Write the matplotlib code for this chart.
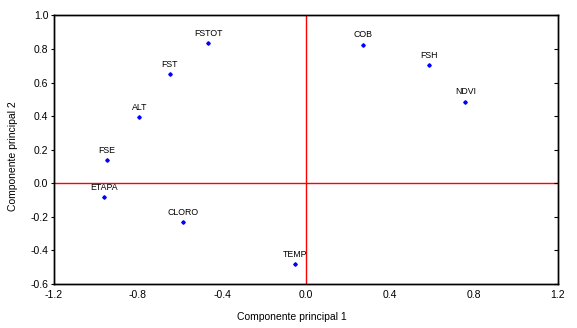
import matplotlib
matplotlib.use("Agg")
import matplotlib.pyplot as plt

plt.rcParams['font.family'] = ['Liberation Sans', 'DejaVu Sans']

labels = ["FSTOT", "COB", "FSH", "NDVI", "FST", "ALT", "FSE", "ETAPA", "CLORO", "TEMP"]
pc1 = [-0.465, 0.271, 0.587, 0.759, -0.649, -0.794, -0.949, -0.960, -0.586, -0.052]
pc2 = [0.833, 0.826, 0.703, 0.485, 0.650, 0.394, 0.136, -0.082, -0.233, -0.483]

xticks = [-1.2, -0.8, -0.4, 0.0, 0.4, 0.8, 1.2]
yticks = [-0.6, -0.4, -0.2, 0.0, 0.2, 0.4, 0.6, 0.8, 1.0]

fig = plt.figure(figsize=(5.77, 3.28), dpi=100)
ax = fig.add_axes([0.0936, 0.134, 0.8734, 0.819])

ax.axvline(0, color="red", lw=1.0, zorder=1)
ax.axhline(0, color="red", lw=1.0, zorder=1)
ax.plot(pc1, pc2, ls="none", marker="D", ms=1.8, color="blue", zorder=3)
for lab, x, y in zip(labels, pc1, pc2):
    ax.annotate(lab, (x, y), xytext=(0, 4), textcoords="offset points",
                ha="center", va="bottom", fontsize=6.3)

ax.set_xlim(-1.2, 1.2)
ax.set_ylim(-0.6, 1.0)
ax.set_xticks(xticks)
ax.set_yticks(yticks)
ax.set_xticklabels([f"{t:.1f}" for t in xticks])
ax.set_yticklabels([f"{t:.1f}" for t in yticks])
ax.tick_params(axis="x", length=0, labelsize=7.5, pad=4)
ax.tick_params(axis="y", direction="out", length=2, labelsize=7.5, pad=2)

# inward ticks on the right spine, no labels
ax2 = ax.twinx()
ax2.set_ylim(ax.get_ylim())
ax2.set_yticks(yticks)
ax2.tick_params(axis="y", direction="in", length=3, labelright=False)

for a in (ax, ax2):
    for s in a.spines.values():
        s.set_linewidth(1.0)

ax.set_xlabel("Componente principal 1", fontsize=7.5)
ax.set_ylabel("Componente principal 2", fontsize=7.5)
ax.xaxis.set_label_coords(0.472, -0.105)
ax.yaxis.set_label_coords(-0.071, 0.475)

fig.savefig("out.png", dpi=100)
